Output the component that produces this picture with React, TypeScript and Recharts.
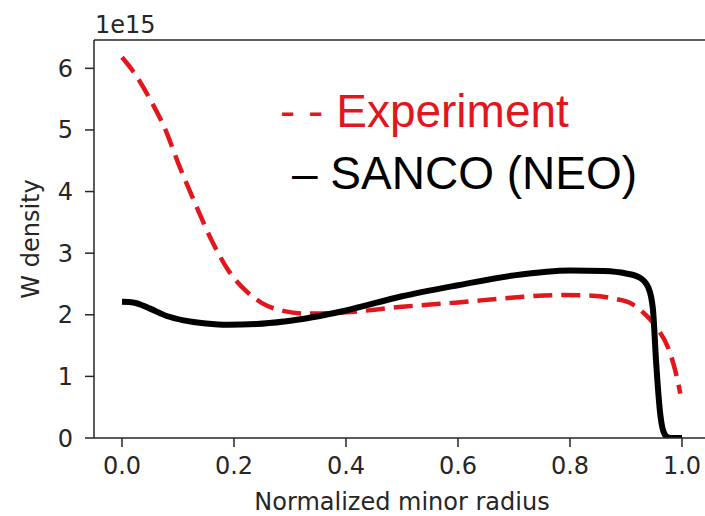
import { LineChart, Line, XAxis, YAxis, ReferenceLine } from 'recharts';

// radial W density profiles, in units of 1e15
const expRadius = [0, 0.02, 0.05, 0.08, 0.1, 0.13, 0.16, 0.19, 0.22, 0.25, 0.29, 0.33, 0.4, 0.5, 0.6, 0.7, 0.78, 0.84, 0.88, 0.91, 0.935, 0.955, 0.978, 0.99, 0.997];
const expDensity = [6.18, 5.95, 5.5, 4.95, 4.47, 3.82, 3.21, 2.72, 2.4, 2.19, 2.06, 2.02, 2.04, 2.13, 2.2, 2.28, 2.32, 2.31, 2.26, 2.18, 2.0, 1.79, 1.4, 1.02, 0.72];

const sancoRadius = [0, 0.02, 0.05, 0.08, 0.11, 0.15, 0.19, 0.24, 0.29, 0.34, 0.4, 0.5, 0.6, 0.7, 0.8, 0.86, 0.9, 0.925, 0.94, 0.948, 0.954, 0.961, 0.967, 0.973, 0.98, 1.0];
const sancoDensity = [2.21, 2.2, 2.1, 1.98, 1.91, 1.86, 1.84, 1.85, 1.89, 1.96, 2.07, 2.3, 2.48, 2.64, 2.72, 2.71, 2.67, 2.6, 2.44, 2.1, 1.2, 0.4, 0.1, 0.02, 0, 0];

const xTicks = [0, 0.2, 0.4, 0.6, 0.8, 1.0];
const yTicks = [0, 1, 2, 3, 4, 5, 6];
const yMax = 6.46;

const expData = expRadius.map((r, i) => ({ r, v: expDensity[i] }));
const sancoData = sancoRadius.map((r, i) => ({ r, v: sancoDensity[i] }));

const FONT = '"DejaVu Sans", sans-serif';
const INK = '#262626';
const tickStyle = { fontFamily: FONT, fontSize: 24, fill: INK };
const legendFont = '"Liberation Sans", Arial, sans-serif';

export default function App() {
  return (
    <div style={{ position: 'absolute', left: 0, top: 0, width: 705, height: 516, overflow: 'hidden', background: '#fff' }}>
      <LineChart width={712} height={516} margin={{ top: 40, right: 2, bottom: 0, left: 0 }}>
        <XAxis
          dataKey="r"
          type="number"
          domain={[-0.05, 1.05]}
          ticks={xTicks}
          tickFormatter={(t: number) => t.toFixed(1)}
          allowDataOverflow
          height={78}
          tickSize={9}
          tickMargin={10}
          tick={tickStyle}
          stroke={INK}
          strokeWidth={1.5}
          label={{ value: 'Normalized minor radius', position: 'insideBottom', offset: 6, style: { fontFamily: FONT, fontSize: 24, fill: INK } }}
        />
        <YAxis
          type="number"
          domain={[0, yMax]}
          ticks={yTicks}
          allowDataOverflow
          width={94}
          tickSize={9}
          tickMargin={12}
          tick={tickStyle}
          stroke={INK}
          strokeWidth={1.5}
          label={{ value: 'W density', angle: -90, position: 'insideLeft', offset: 30, style: { fontFamily: FONT, fontSize: 24, fill: INK, textAnchor: 'middle' } }}
        />
        {/* top spine */}
        <ReferenceLine y={yMax} stroke={INK} strokeWidth={1.5} ifOverflow="visible" />
        <Line
          data={expData}
          dataKey="v"
          type="monotone"
          stroke="#e3161d"
          strokeWidth={4.5}
          strokeDasharray="19 9"
          dot={false}
          isAnimationActive={false}
        />
        <Line
          data={sancoData}
          dataKey="v"
          type="monotone"
          stroke="#000"
          strokeWidth={6}
          strokeLinejoin="round"
          dot={false}
          isAnimationActive={false}
        />
      </LineChart>
      <div style={{ position: 'absolute', left: 95, top: 13, fontFamily: FONT, fontSize: 24, color: INK, lineHeight: 1 }}>1e15</div>
      <div style={{ position: 'absolute', left: 280, top: 88, fontFamily: legendFont, fontSize: 46, color: '#e3161d', lineHeight: 1, whiteSpace: 'pre' }}>- - Experiment</div>
      <div style={{ position: 'absolute', left: 292, top: 150, fontFamily: legendFont, fontSize: 46, color: '#000', lineHeight: 1, whiteSpace: 'pre' }}>– SANCO (NEO)</div>
    </div>
  );
}
